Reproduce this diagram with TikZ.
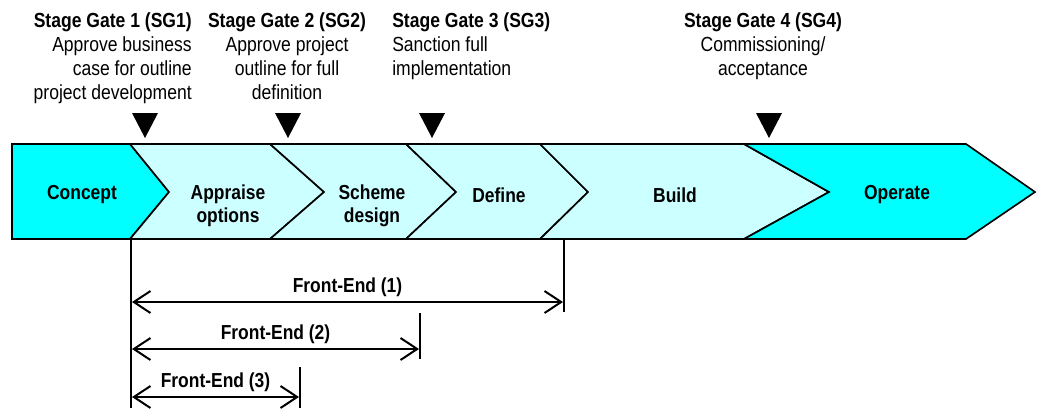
\documentclass[tikz,border=0pt]{standalone}
\usepackage{fontspec}
\setmainfont{Liberation Sans}[FakeStretch=0.86]
\usetikzlibrary{arrows.meta}
\definecolor{phaseA}{HTML}{00FFFF}
\definecolor{phaseB}{HTML}{CCFFFF}
\newcommand\gatehead[1]{{\bfseries #1}}

\begin{document}
\begin{tikzpicture}[
  x=0.75pt, y=-0.75pt,      % pixel grid, y runs downwards
  >={Straight Barb[length=12.5pt,width=16.5pt]},
  chev/.style={draw,line width=1.25pt,line join=miter},
  mainphase/.style={chev,fill=phaseA},
  subphase/.style={chev,fill=phaseB},
  phase/.style={font=\fontsize{15.2}{17.3}\selectfont\bfseries, align=center},
  gate/.style={font=\fontsize{15.3}{18}\selectfont, inner sep=0pt},
  tick/.style={line width=1.5pt},
  span/.style={<->,line width=1.5pt},
  spanlbl/.style={font=\fontsize{15.2}{17}\selectfont\bfseries, above=0pt}
]
\useasboundingbox (0,0) rectangle (1037,408);

% --- phase chevrons
\path[mainphase] (12,144) -- (130,144) -- (169,192) -- (130,239) -- (12,239) -- cycle;
\path[subphase]  (130,144) -- (270,144) -- (324,192) -- (270,239) -- (130,239) -- (169,192) -- cycle;
\path[subphase]  (270,144) -- (406,144) -- (456,192) -- (406,239) -- (270,239) -- (324,192) -- cycle;
\path[subphase]  (406,144) -- (540,144) -- (588,192) -- (540,239) -- (406,239) -- (456,192) -- cycle;
\path[subphase]  (540,144) -- (744,144) -- (829,192) -- (744,239) -- (540,239) -- (588,192) -- cycle;
\path[mainphase] (744,144) -- (966,144) -- (1035,192) -- (966,239) -- (744,239) -- (829,192) -- cycle;

\node[phase] (concept) at (82,195)  {Concept};
\node[phase] (appr)    at (228,206) {Appraise\\options};
\node[phase] (scheme)  at (372,206) {Scheme\\design};
\node[phase] (define)  at (499,195) {Define};
\node[phase] (build)   at (675,195) {Build};
\node[phase] (operate) at (897,195) {Operate};

% --- stage gates
\node[gate,anchor=north east,align=right] (sg1) at (192,12)
  {\gatehead{Stage Gate 1 (SG1)}\\Approve business\\case for outline\\project development};
\node[gate,anchor=north,align=center] (sg2) at (287,12)
  {\gatehead{Stage Gate 2 (SG2)}\\Approve project\\outline for full\\definition};
\node[gate,anchor=north west,align=left] (sg3) at (392,12)
  {\gatehead{Stage Gate 3 (SG3)}\\Sanction full\\implementation};
\node[gate,anchor=north,align=center] (sg4) at (763,12)
  {\gatehead{Stage Gate 4 (SG4)}\\Commissioning/\\acceptance};

\fill (145,138) -- ++(-13,-25) -- ++(26,0) -- cycle;
\fill (288,138) -- ++(-13,-25) -- ++(26,0) -- cycle;
\fill (432,138) -- ++(-13,-25) -- ++(26,0) -- cycle;
\fill (769,138) -- ++(-13,-25) -- ++(26,0) -- cycle;

% --- front-end spans
\coordinate (base0) at (131,239);
\coordinate (base1) at (131,408);
\coordinate (fe1a) at (564,240);
\coordinate (fe1b) at (564,312);
\coordinate (fe2a) at (420,313);
\coordinate (fe2b) at (420,359);
\coordinate (fe3a) at (300,367);
\coordinate (fe3b) at (300,408);

\draw[tick] (base0) -- (base1);
\draw[tick] (fe1a) -- (fe1b);
\draw[tick] (fe2a) -- (fe2b);
\draw[tick] (fe3a) -- (fe3b);

\coordinate (fe1L) at (132,302);
\coordinate (fe1R) at (563,302);
\coordinate (fe2L) at (132,349);
\coordinate (fe2R) at (419,349);
\coordinate (fe3L) at (132,397);
\coordinate (fe3R) at (299,397);

\draw[span] (fe1L) -- node[spanlbl] (fe1) {Front-End (1)} (fe1R);
\draw[span] (fe2L) -- node[spanlbl] (fe2) {Front-End (2)} (fe2R);
\draw[span] (fe3L) -- node[spanlbl] (fe3) {Front-End (3)} (fe3R);

\end{tikzpicture}
\end{document}
